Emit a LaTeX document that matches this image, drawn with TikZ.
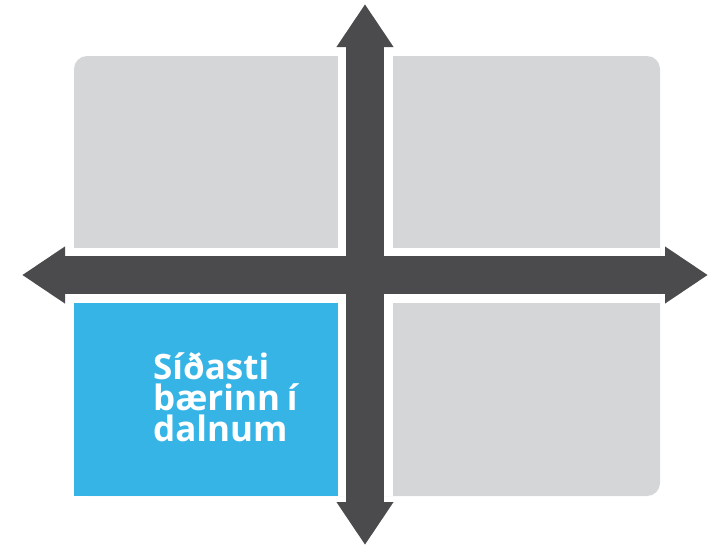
\documentclass[tikz,border=0pt]{standalone}
\usepackage{fontspec}
\setmainfont{Open Sans}
\usetikzlibrary{arrows.meta}
\definecolor{cellgray}{HTML}{D5D6D8}
\definecolor{cellblue}{HTML}{36B4E6}
\definecolor{axisdark}{HTML}{4B4B4D}
\tikzset{
  gap/.style={white, line width=55pt},
  axis/.style={axisdark, line width=38pt, {Triangle[length=43pt,width=54pt]}-{Triangle[length=43pt,width=54pt]}},
}
\begin{document}
\begin{tikzpicture}[x=1pt,y=-1pt]
\useasboundingbox (0,0) rectangle (710,547);
% cells
\fill[cellgray, rounded corners=13pt] (74,56) rectangle (660,496);
\fill[cellblue] (74,275) rectangle (365,496);
% white gaps
\coordinate (gT) at (365,56);
\coordinate (gB) at (365,496);
\coordinate (gL) at (74,275);
\coordinate (gR) at (660,275);
\draw[gap] (gT) -- (gB);
\draw[gap] (gL) -- (gR);
% axes
\coordinate (aT) at (365,4);
\coordinate (aB) at (365,545);
\coordinate (aL) at (22,275);
\coordinate (aR) at (708,275);
\draw[axis] (aL) -- (aR);
\draw[axis] (aT) -- (aB);
% label
\node[anchor=west, inner sep=0pt, align=left, text=white, font=\fontsize{35}{31}\selectfont\bfseries] (lbl) at (153,397) {Síðasti\\bærinn{\hskip 0.2em}í\\dalnum};
\end{tikzpicture}
\end{document}
